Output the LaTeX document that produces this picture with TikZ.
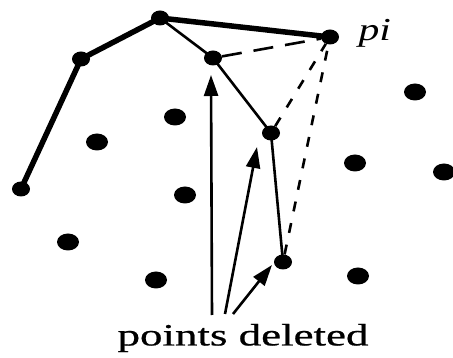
\documentclass[tikz,border=0pt]{standalone}
\usepackage{fontspec}
\setmainfont{Liberation Serif}
\newfontfamily\heavyserif[FakeBold=0.6]{Liberation Serif}
\usetikzlibrary{shapes.geometric,arrows.meta}
\begin{document}
\begin{tikzpicture}[x=1pt,y=-1pt,
  hull/.style={ellipse,fill=black,inner sep=0pt,minimum width=18pt,minimum height=15pt},
  pt/.style={ellipse,fill=black,inner sep=0pt,minimum width=22pt,minimum height=17pt},
  thickedge/.style={line width=5.5pt},
  thinedge/.style={line width=2.6pt},
  dashedge/.style={line width=2.6pt,dash pattern=on 10pt off 12pt},
  ptr/.style={line width=2.6pt,-{Triangle[length=21pt,width=14pt]}}]
\useasboundingbox (0,0) rectangle (453,358);
% hull points
\node[hull] (A) at (21,189) {};
\node[hull] (B) at (81,59) {};
\node[hull] (C) at (160,18) {};
\node[hull] (P) at (330,37) {};
\node[hull] (D) at (213,58) {};
\node[hull] (E) at (271,133) {};
\node[hull] (F) at (283,262) {};
% scattered points
\node[pt] (s1) at (175,117) {};
\node[pt] (s2) at (97,142) {};
\node[pt] (s3) at (415,92) {};
\node[pt] (s4) at (355,163) {};
\node[pt] (s5) at (444,172) {};
\node[pt] (s6) at (185,195) {};
\node[pt] (s7) at (68,242) {};
\node[pt] (s8) at (156,280) {};
\node[pt] (s9) at (358,276) {};
% edges
\draw[thickedge] (A.center) -- (B.center) -- (C.center) -- (P.center);
\draw[thinedge] (C.center) -- (D.center) -- (E.center) -- (F.center);
\draw[dashedge,dash pattern=on 20pt off 12pt] (D) -- (P);
\draw[dashedge] (E) -- (P);
\draw[dashedge] (F) -- (P);
% label
\node[font=\fontsize{32}{32}\selectfont\itshape,anchor=west,xscale=1.3] (lab) at (354,33) {pi};
\node[font=\fontsize{31}{31}\heavyserif,xscale=1.45] (txt) at (243,338) {points deleted};
% arrows
\coordinate (b1) at (212,315);
\coordinate (b2) at (225,314);
\coordinate (b3) at (233,314);
\coordinate (t1) at (211,75);
\coordinate (t2) at (257,147);
\coordinate (t3) at (272,265);
\draw[ptr] (b1) -- (t1);
\draw[ptr] (b2) -- (t2);
\draw[ptr] (b3) -- (t3);
\end{tikzpicture}
\end{document}
